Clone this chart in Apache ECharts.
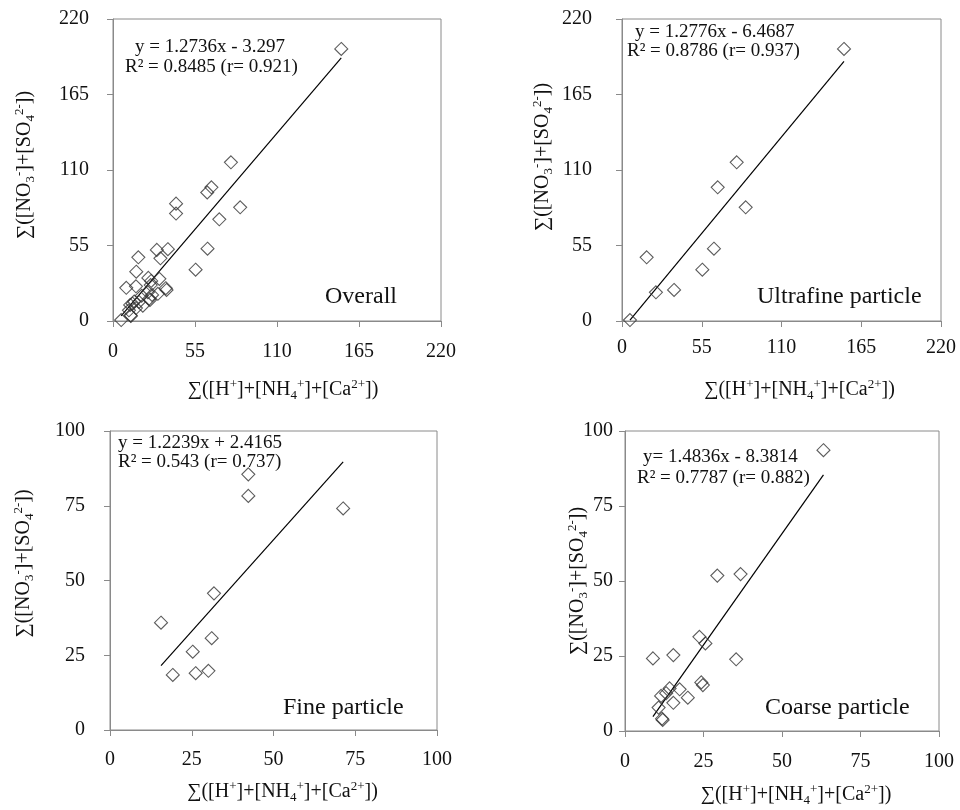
<!DOCTYPE html>
<html>
<head>
<meta charset="utf-8">
<script src="https://cdn.jsdelivr.net/npm/echarts@6/dist/echarts.min.js"></script>
<style>
  html, body { margin: 0; padding: 0; background: #ffffff; }
  #chart { width: 960px; height: 810px; }
</style>
</head>
<body>
<div id="chart"></div>
<script>
// Ion balance: sum of anions vs sum of cations, per particle size class
const ultrafineX = [153.1, 79.1, 66.0, 85.3, 63.4, 55.4, 17.0, 23.4, 35.9, 5.5];
const ultrafineY = [198.2, 115.6, 97.4, 82.8, 52.7, 37.4, 46.4, 20.9, 22.6, 0.7];

const fineX = [42.3, 42.3, 71.3, 31.8, 15.6, 31.1, 25.3, 19.2, 26.2, 30.1];
const fineY = [85.5, 78.3, 74.1, 45.7, 35.9, 30.7, 26.2, 18.4, 19.0, 19.8];

const coarseX = [63.2, 36.8, 29.4, 23.7, 25.6, 35.4, 8.9, 15.4, 24.3, 24.8, 17.4, 14.2, 13.1, 11.5, 15.4, 20.0, 10.7, 11.8, 12.0];
const coarseY = [93.6, 52.3, 51.8, 31.4, 29.2, 23.9, 24.2, 25.3, 16.2, 15.3, 13.9, 14.2, 12.6, 11.7, 9.4, 11.1, 7.8, 4.1, 3.7];

// Overall = all samples together
const overallX = ultrafineX.concat(fineX, coarseX);
const overallY = ultrafineY.concat(fineY, coarseY);

// Linear fits (slope, intercept) and correlation stats
const fitSlope     = [1.2736, 1.2776, 1.2239, 1.4836];
const fitIntercept = [-3.297, -6.4687, 2.4165, -8.3814];
const fitR2        = ['0.8485', '0.8786', '0.543', '0.7787'];
const fitR         = ['0.921', '0.937', '0.737', '0.882'];
const eqPrefix     = ['y = ', 'y = ', 'y = ', 'y= '];

const panelNames = ['Overall', 'Ultrafine particle', 'Fine particle', 'Coarse particle'];
const axisMax      = [220, 220, 100, 100];
const axisInterval = [55, 55, 25, 25];

const FONT = '"Liberation Serif", "Times New Roman", serif';
const GREY = '#8a8a8a';

// Panel layout in pixels
const layout = [
  { grid: { left: 113, top: 19,  width: 328, height: 302 }, yLabM: 24, xLabM: 21, yGap: 76, yShift: 10, xGap: 57, xShift: 12,
    eq1: [135, 47], eq2: [125, 67], name: [325, 297] },
  { grid: { left: 622, top: 19,  width: 319, height: 302 }, yLabM: 30, xLabM: 17, yGap: 67, yShift: 26, xGap: 57, xShift: 36,
    eq1: [635, 32], eq2: [627, 51], name: [757, 297] },
  { grid: { left: 110, top: 431, width: 327, height: 299 }, yLabM: 25, xLabM: 20, yGap: 74, yShift: 34, xGap: 50, xShift: 18,
    eq1: [118, 443], eq2: [118, 462], name: [283, 708] },
  { grid: { left: 625, top: 431, width: 314, height: 300 }, yLabM: 12, xLabM: 21, yGap: 35, yShift: 0, xGap: 52, xShift: 28,
    eq1: [643, 457], eq2: [637, 478], name: [765, 708] }
];

const seriesX = [overallX, ultrafineX, fineX, coarseX];
const seriesY = [overallY, ultrafineY, fineY, coarseY];

const richStyles = {
  n:  { fontFamily: FONT, fontSize: 20, lineHeight: 24, color: '#111' },
  sp: { fontFamily: FONT, fontSize: 13, lineHeight: 13, verticalAlign: 'top', color: '#111' },
  sb: { fontFamily: FONT, fontSize: 13, lineHeight: 13, verticalAlign: 'bottom', color: '#111' }
};
const xTitle = '{n|∑([H}{sp|+}{n|]+[NH}{sb|4}{sp|+}{n|]+[Ca}{sp|2+}{n|])}';
const yTitle = '{n|∑([NO}{sb|3}{sp|-}{n|]+[SO}{sb|4}{sp|2-}{n|])}';

const grids = [], xAxes = [], yAxes = [], series = [], graphics = [];

layout.forEach(function (L, i) {
  grids.push(Object.assign({ show: true, borderColor: GREY, borderWidth: 1, backgroundColor: 'transparent' }, L.grid));

  const common = {
    type: 'value', gridIndex: i, min: 0, max: axisMax[i], interval: axisInterval[i],
    splitLine: { show: false },
    axisLine: { show: true, lineStyle: { color: GREY, width: 1 } },
    axisTick: { show: true, inside: false, length: 6, lineStyle: { color: GREY } },
    nameLocation: 'middle',
    nameMoveOverlap: false
  };
  xAxes.push(Object.assign({}, common, {
    axisLabel: { fontFamily: FONT, fontSize: 20, color: '#111', margin: L.xLabM },
    name: xTitle, nameGap: L.xGap,
    nameTextStyle: { padding: [0, 0, 0, L.xShift], rich: richStyles }
  }));
  yAxes.push(Object.assign({}, common, {
    axisLabel: { fontFamily: FONT, fontSize: 20, color: '#111', margin: L.yLabM },
    name: yTitle, nameGap: L.yGap, nameRotate: 90,
    nameTextStyle: { padding: [0, 0, 0, L.yShift], rich: richStyles }
  }));

  const pts = seriesX[i].map(function (x, k) { return [x, seriesY[i][k]]; });
  series.push({
    type: 'scatter', xAxisIndex: i, yAxisIndex: i, data: pts,
    symbol: 'diamond', symbolSize: 13,
    itemStyle: { color: 'rgba(255,255,255,0)', borderColor: '#333', borderWidth: 1.1 },
    emphasis: { disabled: true }, z: 3
  });

  // Fitted line across the observed x-range
  const xmin = Math.min.apply(null, seriesX[i]);
  const xmax = Math.max.apply(null, seriesX[i]);
  const a = fitSlope[i], b = fitIntercept[i];
  series.push({
    type: 'line', xAxisIndex: i, yAxisIndex: i,
    data: [[xmin, a * xmin + b], [xmax, a * xmax + b]],
    showSymbol: false, symbol: 'none', silent: true,
    lineStyle: { color: '#000', width: 1.2 }, z: 2
  });

  const eqText = eqPrefix[i] + a + 'x ' + (b < 0 ? '- ' : '+ ') + Math.abs(b);
  const r2Text = 'R² = ' + fitR2[i] + ' (r= ' + fitR[i] + ')';
  const textStyle = function (t, size) {
    return { text: t, fontFamily: FONT, fontSize: size, fill: '#111',
             verticalAlign: 'middle', textVerticalAlign: 'middle', align: 'left', textAlign: 'left' };
  };
  graphics.push({ type: 'text', x: L.eq1[0], y: L.eq1[1], style: textStyle(eqText, 19), z: 10 });
  graphics.push({ type: 'text', x: L.eq2[0], y: L.eq2[1], style: textStyle(r2Text, 19), z: 10 });
  graphics.push({ type: 'text', x: L.name[0], y: L.name[1], style: textStyle(panelNames[i], 24), z: 10 });
});

const chart = echarts.init(document.getElementById('chart'), null, { renderer: 'canvas' });
chart.setOption({
  animation: false,
  backgroundColor: '#ffffff',
  grid: grids,
  xAxis: xAxes,
  yAxis: yAxes,
  series: series,
  graphic: graphics
});
</script>
</body>
</html>
